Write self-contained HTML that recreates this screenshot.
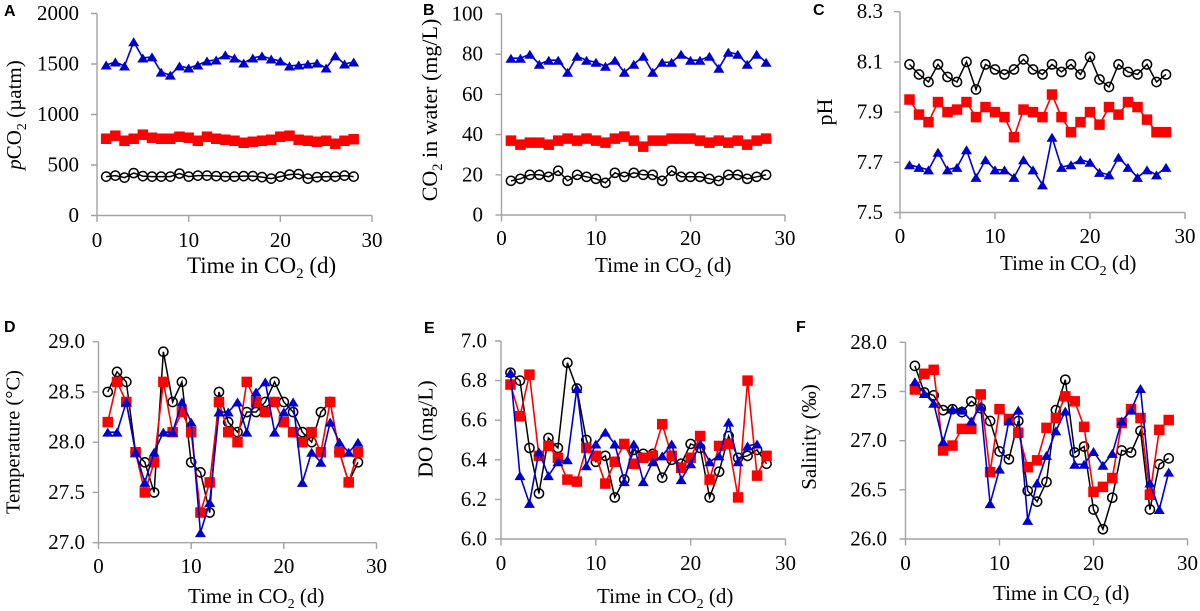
<!DOCTYPE html>
<html><head><meta charset="utf-8"><style>
html,body{margin:0;padding:0;background:#fff;}
svg{display:block;}
text{font-family:"Liberation Serif",serif;fill:#000;}
.t{font-size:21px;}
.lab{font-family:"Liberation Sans",sans-serif;font-weight:bold;font-size:16px;}
.ax{stroke:#a3a3a3;stroke-width:1.4;fill:none;}
</style></head><body>
<svg width="1200" height="611" viewBox="0 0 1200 611" xmlns="http://www.w3.org/2000/svg">
<defs>
<!-- A -->
<marker id="ca" viewBox="0 0 20 20" refX="10" refY="10" markerUnits="userSpaceOnUse" markerWidth="2.1818" markerHeight="198.02" preserveAspectRatio="none"><circle cx="10" cy="10" r="4.6" fill="none" stroke="#000" stroke-width="1.5"/></marker>
<marker id="sa" viewBox="0 0 20 20" refX="10" refY="10" markerUnits="userSpaceOnUse" markerWidth="2.1818" markerHeight="198.02" preserveAspectRatio="none"><rect x="4.75" y="4.75" width="10.5" height="10.5" fill="#ff0000"/></marker>
<marker id="ta" viewBox="0 0 20 20" refX="10" refY="10" markerUnits="userSpaceOnUse" markerWidth="2.1818" markerHeight="198.02" preserveAspectRatio="none"><polygon points="4.5,5.5 15.5,5.5 10,14.5" fill="#0000cc"/></marker>
<!-- B -->
<marker id="cb" viewBox="0 0 20 20" refX="10" refY="10" markerUnits="userSpaceOnUse" markerWidth="2.1164" markerHeight="9.9502" preserveAspectRatio="none"><circle cx="10" cy="10" r="4.6" fill="none" stroke="#000" stroke-width="1.5"/></marker>
<marker id="sb" viewBox="0 0 20 20" refX="10" refY="10" markerUnits="userSpaceOnUse" markerWidth="2.1164" markerHeight="9.9502" preserveAspectRatio="none"><rect x="4.75" y="4.75" width="10.5" height="10.5" fill="#ff0000"/></marker>
<marker id="tb" viewBox="0 0 20 20" refX="10" refY="10" markerUnits="userSpaceOnUse" markerWidth="2.1164" markerHeight="9.9502" preserveAspectRatio="none"><polygon points="4.5,5.5 15.5,5.5 10,14.5" fill="#0000cc"/></marker>
<!-- C -->
<marker id="cc" viewBox="0 0 20 20" refX="10" refY="10" markerUnits="userSpaceOnUse" markerWidth="2.1053" markerHeight="0.079681" preserveAspectRatio="none"><circle cx="10" cy="10" r="4.6" fill="none" stroke="#000" stroke-width="1.5"/></marker>
<marker id="sc" viewBox="0 0 20 20" refX="10" refY="10" markerUnits="userSpaceOnUse" markerWidth="2.1053" markerHeight="0.079681" preserveAspectRatio="none"><rect x="4.75" y="4.75" width="10.5" height="10.5" fill="#ff0000"/></marker>
<marker id="tc" viewBox="0 0 20 20" refX="10" refY="10" markerUnits="userSpaceOnUse" markerWidth="2.1053" markerHeight="0.079681" preserveAspectRatio="none"><polygon points="4.5,5.5 15.5,5.5 10,14.5" fill="#0000cc"/></marker>
<!-- D -->
<marker id="cd" viewBox="0 0 20 20" refX="10" refY="10" markerUnits="userSpaceOnUse" markerWidth="2.1583" markerHeight="0.19900" preserveAspectRatio="none"><circle cx="10" cy="10" r="4.6" fill="none" stroke="#000" stroke-width="1.5"/></marker>
<marker id="sd" viewBox="0 0 20 20" refX="10" refY="10" markerUnits="userSpaceOnUse" markerWidth="2.1583" markerHeight="0.19900" preserveAspectRatio="none"><rect x="4.75" y="4.75" width="10.5" height="10.5" fill="#ff0000"/></marker>
<marker id="td" viewBox="0 0 20 20" refX="10" refY="10" markerUnits="userSpaceOnUse" markerWidth="2.1583" markerHeight="0.19900" preserveAspectRatio="none"><polygon points="4.5,5.5 15.5,5.5 10,14.5" fill="#0000cc"/></marker>
<!-- E -->
<marker id="ce" viewBox="0 0 20 20" refX="10" refY="10" markerUnits="userSpaceOnUse" markerWidth="2.1090" markerHeight="0.10101" preserveAspectRatio="none"><circle cx="10" cy="10" r="4.6" fill="none" stroke="#000" stroke-width="1.5"/></marker>
<marker id="se" viewBox="0 0 20 20" refX="10" refY="10" markerUnits="userSpaceOnUse" markerWidth="2.1090" markerHeight="0.10101" preserveAspectRatio="none"><rect x="4.75" y="4.75" width="10.5" height="10.5" fill="#ff0000"/></marker>
<marker id="te" viewBox="0 0 20 20" refX="10" refY="10" markerUnits="userSpaceOnUse" markerWidth="2.1090" markerHeight="0.10101" preserveAspectRatio="none"><polygon points="4.5,5.5 15.5,5.5 10,14.5" fill="#0000cc"/></marker>
<!-- F -->
<marker id="cf" viewBox="0 0 20 20" refX="10" refY="10" markerUnits="userSpaceOnUse" markerWidth="2.1277" markerHeight="0.20336" preserveAspectRatio="none"><circle cx="10" cy="10" r="4.6" fill="none" stroke="#000" stroke-width="1.5"/></marker>
<marker id="sf" viewBox="0 0 20 20" refX="10" refY="10" markerUnits="userSpaceOnUse" markerWidth="2.1277" markerHeight="0.20336" preserveAspectRatio="none"><rect x="4.75" y="4.75" width="10.5" height="10.5" fill="#ff0000"/></marker>
<marker id="tf" viewBox="0 0 20 20" refX="10" refY="10" markerUnits="userSpaceOnUse" markerWidth="2.1277" markerHeight="0.20336" preserveAspectRatio="none"><polygon points="4.5,5.5 15.5,5.5 10,14.5" fill="#0000cc"/></marker>
</defs>

<!-- ================= PANEL A ================= -->
<text class="lab" x="4" y="16">A</text>
<path class="ax" d="M97,13.5V215.5H372 M91,13.5H97 M91,64H97 M91,114.5H97 M91,165H97 M91,215.5H97 M97,215.5V222 M188.67,215.5V222 M280.33,215.5V222 M372,215.5V222"/>
<g class="t" text-anchor="end">
<text x="79" y="20">2000</text><text x="79" y="70.5">1500</text><text x="79" y="121">1000</text><text x="79" y="171.5">500</text><text x="79" y="222">0</text>
</g>
<g class="t" text-anchor="middle">
<text x="97" y="247">0</text><text x="188.67" y="247">10</text><text x="280.33" y="247">20</text><text x="372" y="247">30</text>
</g>
<text x="187" y="273" style="font-size:23px">Time in CO<tspan style="font-size:15px" dy="5">2</tspan><tspan dy="-5"> (d)</tspan></text>
<text transform="translate(21,115) rotate(-90)" text-anchor="middle" style="font-size:21px"><tspan font-style="italic">p</tspan>CO<tspan style="font-size:14px" dy="5">2</tspan><tspan dy="-5"> (µatm)</tspan></text>
<g transform="translate(97,215.5) scale(9.1667,-0.101)" fill="none">
<polyline vector-effect="non-scaling-stroke" stroke="#000" stroke-width="1.5" marker-start="url(#ca)" marker-mid="url(#ca)" marker-end="url(#ca)" points="1,385 2,395 3,375 4,420 5,390 6,385 7,385 8,385 9,415 10,385 11,395 12,395 13,390 14,385 15,385 16,390 17,390 18,380 19,365 20,385 21,405 22,410 23,365 24,380 25,385 26,385 27,395 28,385"/>
<polyline vector-effect="non-scaling-stroke" stroke="#ff0000" stroke-width="1.6" marker-start="url(#sa)" marker-mid="url(#sa)" marker-end="url(#sa)" points="1,760 2,790 3,740 4,760 5,800 6,770 7,760 8,760 9,780 10,770 11,740 12,780 13,760 14,750 15,740 16,720 17,730 18,740 19,750 20,780 21,790 22,750 23,740 24,730 25,740 26,710 27,740 28,755"/>
<polyline vector-effect="non-scaling-stroke" stroke="#0000cc" stroke-width="1.6" marker-start="url(#ta)" marker-mid="url(#ta)" marker-end="url(#ta)" points="1,1490 2,1520 3,1480 4,1720 5,1560 6,1570 7,1420 8,1390 9,1480 10,1460 11,1490 12,1530 13,1540 14,1590 15,1560 16,1510 17,1560 18,1580 19,1550 20,1530 21,1480 22,1490 23,1500 24,1510 25,1460 26,1580 27,1500 28,1520"/>
</g>

<!-- ================= PANEL B ================= -->
<text class="lab" x="423" y="15">B</text>
<path class="ax" d="M501.5,14V215H785 M495.5,14H501.5 M495.5,54.2H501.5 M495.5,94.4H501.5 M495.5,134.6H501.5 M495.5,174.8H501.5 M495.5,215H501.5 M501.5,215V221.5 M596,215V221.5 M690.5,215V221.5 M785,215V221.5"/>
<g class="t" text-anchor="end">
<text x="483" y="20.5">100</text><text x="483" y="60.7">80</text><text x="483" y="100.9">60</text><text x="483" y="141.1">40</text><text x="483" y="181.3">20</text><text x="483" y="221.5">0</text>
</g>
<g class="t" text-anchor="middle">
<text x="501.5" y="245">0</text><text x="596" y="245">10</text><text x="690.5" y="245">20</text><text x="785" y="245">30</text>
</g>
<text x="595" y="272" style="font-size:21px">Time in CO<tspan style="font-size:14px" dy="5">2</tspan><tspan dy="-5"> (d)</tspan></text>
<text transform="translate(437,110) rotate(-90)" text-anchor="middle" style="font-size:22px">CO<tspan style="font-size:14.5px" dy="5">2</tspan><tspan dy="-5"> in water (mg/L)</tspan></text>
<g transform="translate(501.5,215) scale(9.45,-2.01)" fill="none">
<polyline vector-effect="non-scaling-stroke" stroke="#000" stroke-width="1.5" marker-start="url(#cb)" marker-mid="url(#cb)" marker-end="url(#cb)" points="1,17 2,18 3,20 4,20 5,19 6,22 7,17 8,20 9,19 10,18 11,16 12,21 13,19 14,21 15,20 16,20 17,17 18,22 19,19 20,19 21,19 22,18 23,17 24,20 25,20 26,18 27,19 28,20"/>
<polyline vector-effect="non-scaling-stroke" stroke="#ff0000" stroke-width="1.6" marker-start="url(#sb)" marker-mid="url(#sb)" marker-end="url(#sb)" points="1,37 2,35 3,36 4,36 5,35 6,37 7,38 8,37 9,38 10,37 11,36 12,38 13,39 14,37 15,34 16,37 17,37 18,38 19,38 20,38 21,37 22,36 23,37 24,36 25,37 26,35 27,37 28,38"/>
<polyline vector-effect="non-scaling-stroke" stroke="#0000cc" stroke-width="1.6" marker-start="url(#tb)" marker-mid="url(#tb)" marker-end="url(#tb)" points="1,78 2,78 3,80 4,75 5,77 6,77 7,71 8,79 9,77 10,76 11,74 12,77 13,71 14,75 15,79 16,71 17,76 18,76 19,80 20,77 21,77 22,79 23,73 24,81 25,80 26,75 27,80 28,76"/>
</g>

<!-- ================= PANEL C ================= -->
<text class="lab" x="813" y="15">C</text>
<path class="ax" d="M900,11.7V212.5H1185 M894,11.7H900 M894,61.9H900 M894,112.1H900 M894,162.3H900 M894,212.5H900 M900,212.5V219 M995,212.5V219 M1090,212.5V219 M1185,212.5V219"/>
<g class="t" text-anchor="end">
<text x="883" y="18.2">8.3</text><text x="883" y="68.4">8.1</text><text x="883" y="118.6">7.9</text><text x="883" y="168.8">7.7</text><text x="883" y="219">7.5</text>
</g>
<g class="t" text-anchor="middle">
<text x="900" y="243">0</text><text x="995" y="243">10</text><text x="1090" y="243">20</text><text x="1185" y="243">30</text>
</g>
<text x="1000" y="270" style="font-size:21px">Time in CO<tspan style="font-size:14px" dy="5">2</tspan><tspan dy="-5"> (d)</tspan></text>
<text transform="translate(832,112) rotate(-90)" text-anchor="middle" style="font-size:22px">pH</text>
<g transform="translate(900,212.5) scale(9.5,-251) translate(0,-7.5)" fill="none">
<polyline vector-effect="non-scaling-stroke" stroke="#000" stroke-width="1.5" marker-start="url(#cc)" marker-mid="url(#cc)" marker-end="url(#cc)" points="1,8.09 2,8.05 3,8.02 4,8.09 5,8.04 6,8.02 7,8.10 8,7.99 9,8.09 10,8.07 11,8.05 12,8.07 13,8.11 14,8.07 15,8.05 16,8.09 17,8.06 18,8.09 19,8.05 20,8.12 21,8.03 22,8.00 23,8.09 24,8.06 25,8.05 26,8.09 27,8.02 28,8.05"/>
<polyline vector-effect="non-scaling-stroke" stroke="#ff0000" stroke-width="1.6" marker-start="url(#sc)" marker-mid="url(#sc)" marker-end="url(#sc)" points="1,7.95 2,7.89 3,7.86 4,7.94 5,7.90 6,7.91 7,7.94 8,7.88 9,7.92 10,7.90 11,7.88 12,7.80 13,7.91 14,7.90 15,7.88 16,7.97 17,7.88 18,7.82 19,7.86 20,7.90 21,7.85 22,7.92 23,7.89 24,7.94 25,7.92 26,7.87 27,7.82 28,7.82"/>
<polyline vector-effect="non-scaling-stroke" stroke="#0000cc" stroke-width="1.6" marker-start="url(#tc)" marker-mid="url(#tc)" marker-end="url(#tc)" points="1,7.69 2,7.68 3,7.67 4,7.74 5,7.67 6,7.68 7,7.75 8,7.64 9,7.71 10,7.67 11,7.67 12,7.64 13,7.71 14,7.67 15,7.61 16,7.80 17,7.68 18,7.69 19,7.71 20,7.70 21,7.66 22,7.65 23,7.72 24,7.68 25,7.64 26,7.67 27,7.65 28,7.68"/>
</g>

<!-- ================= PANEL D ================= -->
<text class="lab" x="4" y="332">D</text>
<path class="ax" d="M98.5,341.7V542.7H376.5 M92.5,341.7H98.5 M92.5,391.95H98.5 M92.5,442.2H98.5 M92.5,492.45H98.5 M92.5,542.7H98.5 M98.5,542.7V549 M191.17,542.7V549 M283.83,542.7V549 M376.5,542.7V549"/>
<g class="t" text-anchor="end">
<text x="85" y="348.2">29.0</text><text x="85" y="398.45">28.5</text><text x="85" y="448.7">28.0</text><text x="85" y="498.95">27.5</text><text x="85" y="549.2">27.0</text>
</g>
<g class="t" text-anchor="middle">
<text x="98.5" y="573">0</text><text x="191.17" y="573">10</text><text x="283.83" y="573">20</text><text x="376.5" y="573">30</text>
</g>
<text x="188" y="603" style="font-size:21px">Time in CO<tspan style="font-size:14px" dy="5">2</tspan><tspan dy="-5"> (d)</tspan></text>
<text transform="translate(19.5,442) rotate(-90)" text-anchor="middle" style="font-size:20.5px">Temperature (°C)</text>
<g transform="translate(98.5,542.7) scale(9.2667,-100.5) translate(0,-27)" fill="none">
<polyline vector-effect="non-scaling-stroke" stroke="#000" stroke-width="1.5" marker-start="url(#cd)" marker-mid="url(#cd)" marker-end="url(#cd)" points="1,28.5 2,28.7 3,28.6 4,27.9 5,27.8 6,27.5 7,28.9 8,28.4 9,28.6 10,27.8 11,27.7 12,27.3 13,28.5 14,28.2 15,28.1 16,28.3 17,28.3 18,28.4 19,28.6 20,28.4 21,28.3 22,28.1 23,28.0 24,28.3 25,28.4 26,27.9 27,27.6 28,27.8"/>
<polyline vector-effect="non-scaling-stroke" stroke="#ff0000" stroke-width="1.6" marker-start="url(#sd)" marker-mid="url(#sd)" marker-end="url(#sd)" points="1,28.2 2,28.6 3,28.4 4,27.9 5,27.5 6,27.8 7,28.6 8,28.1 9,28.3 10,28.1 11,27.3 12,27.6 13,28.4 14,28.1 15,28.0 16,28.6 17,28.4 18,28.3 19,28.4 20,28.2 21,28.1 22,28.0 23,28.1 24,27.9 25,28.4 26,27.9 27,27.6 28,27.9"/>
<polyline vector-effect="non-scaling-stroke" stroke="#0000cc" stroke-width="1.6" marker-start="url(#td)" marker-mid="url(#td)" marker-end="url(#td)" points="1,28.1 2,28.1 3,28.4 4,27.9 5,27.6 6,27.9 7,28.1 8,28.1 9,28.4 10,28.2 11,27.1 12,27.4 13,28.3 14,28.3 15,28.4 16,28.1 17,28.5 18,28.6 19,28.1 20,28.3 21,28.4 22,27.6 23,27.9 24,27.8 25,28.2 26,28.0 27,27.9 28,28.0"/>
</g>

<!-- ================= PANEL E ================= -->
<text class="lab" x="424" y="333">E</text>
<path class="ax" d="M501,341V539H785.5 M495,341H501 M495,380.6H501 M495,420.2H501 M495,459.8H501 M495,499.4H501 M495,539H501 M501,539V545.5 M595.83,539V545.5 M690.67,539V545.5 M785.5,539V545.5"/>
<g class="t" text-anchor="end">
<text x="487" y="347.5">7.0</text><text x="487" y="387.1">6.8</text><text x="487" y="426.7">6.6</text><text x="487" y="466.3">6.4</text><text x="487" y="505.9">6.2</text><text x="487" y="545.5">6.0</text>
</g>
<g class="t" text-anchor="middle">
<text x="501" y="570">0</text><text x="595.83" y="570">10</text><text x="690.67" y="570">20</text><text x="785.5" y="570">30</text>
</g>
<text x="597" y="603" style="font-size:21px">Time in CO<tspan style="font-size:14px" dy="5">2</tspan><tspan dy="-5"> (d)</tspan></text>
<text transform="translate(432.5,429) rotate(-90)" text-anchor="middle" style="font-size:21.5px">DO (mg/L)</text>
<g transform="translate(501,539) scale(9.4833,-198) translate(0,-6)" fill="none">
<polyline vector-effect="non-scaling-stroke" stroke="#000" stroke-width="1.5" marker-start="url(#ce)" marker-mid="url(#ce)" marker-end="url(#ce)" points="1,6.84 2,6.80 3,6.46 4,6.23 5,6.51 6,6.46 7,6.89 8,6.76 9,6.50 10,6.39 11,6.42 12,6.21 13,6.30 14,6.45 15,6.43 16,6.43 17,6.31 18,6.40 19,6.38 20,6.48 21,6.46 22,6.21 23,6.34 24,6.52 25,6.41 26,6.42 27,6.45 28,6.38"/>
<polyline vector-effect="non-scaling-stroke" stroke="#ff0000" stroke-width="1.6" marker-start="url(#se)" marker-mid="url(#se)" marker-end="url(#se)" points="1,6.78 2,6.62 3,6.83 4,6.42 5,6.47 6,6.41 7,6.30 8,6.29 9,6.46 10,6.42 11,6.28 12,6.39 13,6.48 14,6.38 15,6.41 16,6.42 17,6.58 18,6.42 19,6.36 20,6.41 21,6.52 22,6.30 23,6.47 24,6.48 25,6.21 26,6.80 27,6.32 28,6.42"/>
<polyline vector-effect="non-scaling-stroke" stroke="#0000cc" stroke-width="1.6" marker-start="url(#te)" marker-mid="url(#te)" marker-end="url(#te)" points="1,6.84 2,6.32 3,6.18 4,6.44 5,6.32 6,6.39 7,6.40 8,6.76 9,6.37 10,6.48 11,6.54 12,6.48 13,6.29 14,6.48 15,6.29 16,6.39 17,6.42 18,6.48 19,6.30 20,6.38 21,6.48 22,6.39 23,6.42 24,6.59 25,6.39 26,6.47 27,6.48"/>
</g>

<!-- ================= PANEL F ================= -->
<text class="lab" x="796" y="332">F</text>
<path class="ax" d="M905.5,342.3V539H1187.5 M899.5,342.3H905.5 M899.5,391.5H905.5 M899.5,440.65H905.5 M899.5,489.8H905.5 M899.5,539H905.5 M905.5,539V545.5 M999.5,539V545.5 M1093.5,539V545.5 M1187.5,539V545.5"/>
<g class="t" text-anchor="end">
<text x="887" y="348.8">28.0</text><text x="887" y="398">27.5</text><text x="887" y="447.15">27.0</text><text x="887" y="496.3">26.5</text><text x="887" y="545.5">26.0</text>
</g>
<g class="t" text-anchor="middle">
<text x="905.5" y="570">0</text><text x="999.5" y="570">10</text><text x="1093.5" y="570">20</text><text x="1187.5" y="570">30</text>
</g>
<text x="993" y="600" style="font-size:21px">Time in CO<tspan style="font-size:14px" dy="5">2</tspan><tspan dy="-5"> (d)</tspan></text>
<text transform="translate(816,437) rotate(-90)" text-anchor="middle" style="font-size:21px">Salinity (‰)</text>
<g transform="translate(905.5,539) scale(9.4,-98.35) translate(0,-26)" fill="none">
<polyline vector-effect="non-scaling-stroke" stroke="#000" stroke-width="1.5" marker-start="url(#cf)" marker-mid="url(#cf)" marker-end="url(#cf)" points="1,27.76 2,27.49 3,27.46 4,27.31 5,27.32 6,27.29 7,27.40 8,27.33 9,27.20 10,26.89 11,26.81 12,27.20 13,26.49 14,26.38 15,26.58 16,27.31 17,27.62 18,26.88 19,26.94 20,26.30 21,26.10 22,26.42 23,26.90 24,26.88 25,27.10 26,26.30 27,26.76 28,26.82"/>
<polyline vector-effect="non-scaling-stroke" stroke="#ff0000" stroke-width="1.6" marker-start="url(#sf)" marker-mid="url(#sf)" marker-end="url(#sf)" points="1,27.52 2,27.68 3,27.72 4,26.90 5,26.95 6,27.12 7,27.12 8,27.47 9,26.68 10,27.32 11,27.22 12,27.08 13,26.73 14,26.80 15,27.13 16,27.23 17,27.45 18,27.40 19,27.14 20,26.48 21,26.53 22,26.62 23,27.18 24,27.32 25,27.23 26,26.45 27,27.11 28,27.21"/>
<polyline vector-effect="non-scaling-stroke" stroke="#0000cc" stroke-width="1.6" marker-start="url(#tf)" marker-mid="url(#tf)" marker-end="url(#tf)" points="1,27.60 2,27.48 3,27.38 4,26.99 5,27.32 6,27.31 7,27.20 8,27.35 9,26.36 10,26.71 11,27.20 12,27.31 13,26.19 14,26.57 15,26.85 16,27.10 17,27.30 18,26.76 19,26.76 20,26.89 21,26.75 22,26.87 23,27.20 24,27.31 25,27.53 26,26.57 27,26.30 28,26.68"/>
</g>
</svg>
</body></html>
